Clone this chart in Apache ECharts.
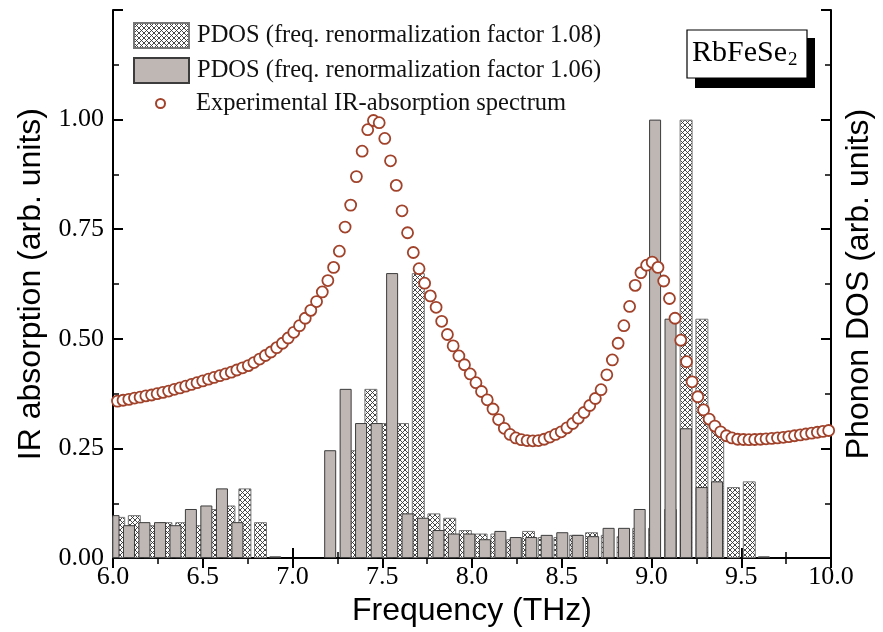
<!DOCTYPE html>
<html><head><meta charset="utf-8">
<script src="https://cdn.jsdelivr.net/npm/echarts/dist/echarts.min.js"></script>
<style>html,body{margin:0;padding:0;background:#fff}#c{width:883px;height:632px}</style>
</head><body><div id="c"></div>
<script>
// ---- data ----
const irFreq = [6.025,6.056,6.088,6.120,6.151,6.183,6.215,6.246,6.278,6.310,6.342,6.373,6.405,6.437,6.468,6.500,6.532,6.563,6.595,6.627,6.659,6.690,6.722,6.754,6.785,6.817,6.849,6.880,6.912,6.944,6.976,7.007,7.039,7.071,7.102,7.134,7.166,7.197,7.229,7.261,7.293,7.324,7.356,7.388,7.419,7.451,7.483,7.514,7.546,7.578,7.610,7.641,7.673,7.705,7.736,7.768,7.800,7.831,7.863,7.895,7.927,7.958,7.990,8.022,8.053,8.085,8.117,8.148,8.180,8.212,8.244,8.275,8.307,8.339,8.370,8.402,8.434,8.465,8.497,8.529,8.561,8.592,8.624,8.656,8.687,8.719,8.751,8.782,8.814,8.846,8.878,8.909,8.941,8.973,9.004,9.036,9.068,9.100,9.131,9.163,9.195,9.226,9.258,9.290,9.321,9.353,9.385,9.417,9.448,9.480,9.512,9.543,9.575,9.607,9.638,9.670,9.702,9.734,9.765,9.797,9.829,9.860,9.892,9.924,9.955,9.987];
const irAbs = [0.358,0.360,0.362,0.365,0.367,0.370,0.372,0.375,0.378,0.381,0.385,0.388,0.392,0.396,0.400,0.404,0.408,0.412,0.416,0.420,0.424,0.429,0.434,0.439,0.446,0.454,0.462,0.470,0.480,0.490,0.502,0.515,0.530,0.547,0.565,0.585,0.607,0.633,0.663,0.700,0.755,0.805,0.870,0.928,0.977,0.998,0.993,0.957,0.906,0.850,0.792,0.742,0.697,0.660,0.627,0.598,0.572,0.540,0.510,0.484,0.461,0.441,0.420,0.400,0.380,0.361,0.340,0.316,0.296,0.282,0.274,0.270,0.268,0.2675,0.268,0.271,0.276,0.282,0.288,0.297,0.307,0.319,0.332,0.348,0.364,0.384,0.418,0.452,0.490,0.530,0.574,0.622,0.651,0.668,0.675,0.663,0.632,0.592,0.547,0.497,0.448,0.402,0.368,0.338,0.317,0.301,0.288,0.279,0.274,0.271,0.2705,0.270,0.2705,0.271,0.272,0.273,0.274,0.2755,0.277,0.279,0.281,0.283,0.285,0.287,0.289,0.291];

const pdos106Freq = [6.003,6.089,6.175,6.262,6.348,6.434,6.520,6.607,6.693,6.904,7.210,7.296,7.382,7.469,7.555,7.641,7.727,7.813,7.899,7.985,8.072,8.158,8.244,8.330,8.416,8.503,8.589,8.675,8.761,8.847,8.934,9.020,9.106,9.192,9.279,9.365,9.626];
const pdos106 = [0.098,0.075,0.082,0.082,0.075,0.112,0.120,0.159,0.082,0.004,0.246,0.386,0.308,0.308,0.650,0.102,0.092,0.064,0.056,0.056,0.043,0.062,0.048,0.048,0.053,0.059,0.053,0.050,0.069,0.069,0.112,1.000,0.546,0.296,0.162,0.175,0.004];

const pdos108Freq = [6.029,6.116,6.204,6.292,6.380,6.468,6.555,6.643,6.732,6.819,7.346,7.434,7.521,7.610,7.698,7.785,7.873,7.960,8.048,8.136,8.224,8.312,8.400,8.487,8.575,8.663,8.751,8.839,8.926,9.014,9.103,9.190,9.278,9.366,9.454,9.542];
const pdos108 = [0.094,0.098,0.075,0.082,0.082,0.075,0.112,0.120,0.159,0.082,0.246,0.386,0.308,0.308,0.650,0.102,0.092,0.064,0.056,0.056,0.043,0.062,0.048,0.048,0.053,0.059,0.053,0.050,0.069,0.069,0.112,1.000,0.546,0.296,0.162,0.175];

const xTickLabels = ['6.0','6.5','7.0','7.5','8.0','8.5','9.0','9.5','10.0'];
const yTickLabels = ['0.00','0.25','0.50','0.75','1.00',''];

const NAME108 = 'PDOS (freq. renormalization factor 1.08)';
const NAME106 = 'PDOS (freq. renormalization factor 1.06)';
const NAMEIR = 'Experimental IR-absorption spectrum';

// ---- styling ----
function makeHatch(){
  const c = document.createElement('canvas');
  c.width = 5; c.height = 5;
  const g = c.getContext('2d');
  g.fillStyle = '#fff'; g.fillRect(0,0,5,5);
  g.strokeStyle = '#333'; g.lineWidth = 0.9;
  g.beginPath(); g.moveTo(0,0); g.lineTo(5,5); g.moveTo(5,0); g.lineTo(0,5); g.stroke();
  return c;
}
const hatch = makeHatch();
const serif = 'Liberation Serif';
const sans = 'Liberation Sans';
const lineSt = {color:'#000', width:2};
const tickSt = {inside:true, length:10, lineStyle:{color:'#000', width:2}};
const minorSt = {show:true, splitNumber:2, length:6, lineStyle:{color:'#000', width:1.5}};

const zip = (a,b) => a.map((v,i)=>[v,b[i]]);

const chart = echarts.init(document.getElementById('c'), null, {renderer:'canvas'});
chart.setOption({
  animation:false,
  backgroundColor:'#fff',
  grid:{left:113, right:48, top:10, bottom:72},
  legend:[
    {data:[NAME108, NAME106], orient:'vertical', left:133, top:22, itemWidth:55, itemHeight:25, itemGap:8,
     padding:0, icon:'rect', selectedMode:false,
     textStyle:{fontFamily:serif, fontSize:24.5, color:'#111', lineHeight:25, padding:[0,0,0,3]}},
    {data:[NAMEIR], orient:'vertical', left:155, top:91, itemWidth:55, itemHeight:9,
     padding:0, icon:'circle', selectedMode:false,
     textStyle:{fontFamily:serif, fontSize:24.5, color:'#111', lineHeight:25, padding:[0,0,0,3]}}
  ],
  xAxis:[
    {type:'value', min:6, max:10, interval:0.5, position:'bottom',
     axisLine:{show:true, lineStyle:lineSt}, axisTick:tickSt, minorTick:minorSt,
     splitLine:{show:false}, minorSplitLine:{show:false},
     axisLabel:{fontFamily:serif, fontSize:26, color:'#000', margin:6,
       formatter:v=>xTickLabels[Math.round((v-6)/0.5)]},
     name:'Frequency (THz)', nameLocation:'middle', nameGap:35,
     nameTextStyle:{fontFamily:sans, fontSize:32, color:'#000'}},
    {type:'value', min:6, max:10, interval:0.5, position:'top',
     axisLine:{show:true, lineStyle:lineSt}, axisTick:tickSt, minorTick:minorSt,
     splitLine:{show:false}, axisLabel:{show:false}}
  ],
  yAxis:[
    {type:'value', min:0, max:1.25, interval:0.25, position:'left',
     axisLine:{show:true, lineStyle:lineSt}, axisTick:tickSt, minorTick:minorSt,
     splitLine:{show:false},
     axisLabel:{fontFamily:serif, fontSize:26, color:'#000', margin:9,
       formatter:v=>yTickLabels[Math.round(v/0.25)]},
     name:'IR absorption (arb. units)', nameLocation:'middle', nameGap:66, nameRotate:90,
     nameTextStyle:{fontFamily:sans, fontSize:32, color:'#000'}},
    {type:'value', min:0, max:1.25, interval:0.25, position:'right',
     axisLine:{show:true, lineStyle:lineSt}, axisTick:tickSt, minorTick:minorSt,
     splitLine:{show:false}, axisLabel:{show:false},
     name:'Phonon DOS (arb. units)', nameLocation:'middle', nameGap:12, nameRotate:90,
     nameTextStyle:{fontFamily:sans, fontSize:32, color:'#000'}}
  ],
  series:[
    {name:NAME108, type:'bar', xAxisIndex:0, yAxisIndex:1, data:zip(pdos108Freq, pdos108),
     barWidth:13, barGap:'-100%', clip:true,
     itemStyle:{color:{image:hatch, repeat:'repeat'}, borderColor:'#777', borderWidth:1}, z:2},
    {name:NAME106, type:'bar', xAxisIndex:0, yAxisIndex:1, data:zip(pdos106Freq, pdos106),
     barWidth:12, barGap:'-100%', clip:true,
     itemStyle:{color:'#bfb7b4', borderColor:'#3c3c3c', borderWidth:1}, z:3},
    {name:NAMEIR, type:'scatter', xAxisIndex:0, yAxisIndex:0, data:zip(irFreq, irAbs),
     symbol:'circle', symbolSize:11,
     itemStyle:{color:'#fff', borderColor:'#a1422b', borderWidth:1.8, opacity:1}, z:4}
  ],
  graphic:[
    {type:'rect', shape:{x:695, y:38, width:120, height:50}, style:{fill:'#000'}, z:10},
    {type:'rect', shape:{x:687, y:30, width:120, height:48}, style:{fill:'#fff', stroke:'#000', lineWidth:1.2}, z:11},
    {type:'text', x:692, y:53, style:{text:'RbFeSe', font:'30px "Liberation Serif"', fill:'#000', verticalAlign:'middle', textVerticalAlign:'middle'}, z:12},
    {type:'text', x:788, y:60, style:{text:'2', font:'19px "Liberation Serif"', fill:'#000', verticalAlign:'middle', textVerticalAlign:'middle'}, z:12}
  ]
});
</script></body></html>
